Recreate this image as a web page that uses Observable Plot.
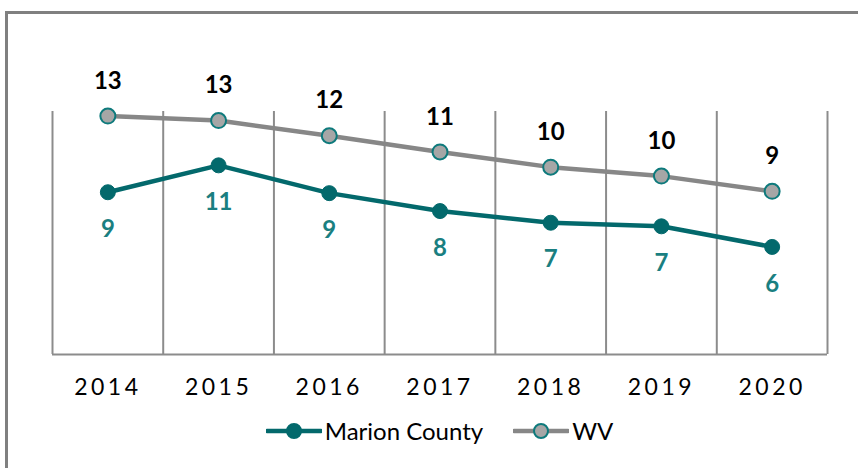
<!DOCTYPE html>
<html>
<head>
<meta charset="utf-8">
<script src="https://cdn.jsdelivr.net/npm/d3@7"></script>
<script src="https://cdn.jsdelivr.net/npm/@observablehq/plot@0.6"></script>
<style>
  html, body { margin: 0; padding: 0; background: #fff; overflow: hidden; width: 858px; height: 468px; }
  body { position: relative; font-family: Lato, "Open Sans", sans-serif; }
  #frame { position: absolute; left: 5px; top: 11px; width: 900px; height: 500px; border: 3px solid #808080; box-sizing: border-box; pointer-events: none; }
  #chart { position: absolute; left: 0; top: 0; }
  #chart [aria-label="x-axis tick label"] text { letter-spacing: 3.5px; }
  #legend { position: absolute; left: 52px; width: 775px; top: 416px; display: flex; justify-content: center; align-items: center; gap: 30px; font-size: 24px; color: #000; }
  .item { display: flex; align-items: center; gap: 3px; }
</style>
</head>
<body>
<div id="chart"></div>
<div id="legend"></div>
<div id="frame"></div>
<script>
const years = [2014, 2015, 2016, 2017, 2018, 2019, 2020];
const marion = [9.05, 10.55, 9.0, 8.0, 7.35, 7.15, 6.0];
const wv = [13.3, 13.05, 12.2, 11.3, 10.45, 9.95, 9.1];
const seriesNames = ["Marion County", "WV"];

const colors = {
  marionLine: "#03696c",
  marionLabel: "#1a7f81",
  wvLine: "#878787",
  wvFill: "#a6a6a6",
  wvStroke: "#0e7a7c",
  grid: "#8c8c8c"
};

const marionData = years.map((y, i) => ({year: y, value: marion[i]}));
const wvData = years.map((y, i) => ({year: y, value: wv[i]}));
const bounds = [...years.map(y => y - 0.5), years[years.length - 1] + 0.5];

const plot = Plot.plot({
  width: 858,
  height: 410,
  marginLeft: 52,
  marginRight: 31,
  marginTop: 103,
  marginBottom: 56,
  style: {fontFamily: "Lato, 'Open Sans', sans-serif", background: "transparent"},
  x: {domain: [2013.5, 2020.5], label: null},
  y: {domain: [0, 14], axis: null},
  marks: [
    Plot.ruleX(bounds, {x: d => d, y1: 0, y2: 14, stroke: colors.grid, strokeWidth: 2, insetBottom: -8}),
    Plot.ruleY([0], {stroke: colors.grid, strokeWidth: 2}),
    Plot.axisX({ticks: years, tickFormat: d => String(d), tickSize: 0, tickPadding: 24, fontSize: 23, fill: "#000", stroke: null, label: null}),
    Plot.line(wvData, {x: "year", y: "value", stroke: colors.wvLine, strokeWidth: 4.5}),
    Plot.line(marionData, {x: "year", y: "value", stroke: colors.marionLine, strokeWidth: 4.5}),
    Plot.dot(wvData, {x: "year", y: "value", r: 7.5, fill: colors.wvFill, stroke: colors.wvStroke, strokeWidth: 2}),
    Plot.dot(marionData, {x: "year", y: "value", r: 7.5, fill: colors.marionLine, stroke: colors.marionLine, strokeWidth: 1}),
    Plot.text(wvData, {x: "year", y: "value", text: d => String(Math.round(d.value)), dy: -35, fontSize: 24, fontWeight: "bold", fill: "#000"}),
    Plot.text(marionData, {x: "year", y: "value", text: d => String(Math.round(d.value)), dy: 37, fontSize: 24, fontWeight: "bold", fill: colors.marionLabel})
  ]
});
document.getElementById("chart").appendChild(plot);

const swatch = (line, fill, stroke) =>
  `<svg width="56" height="18" viewBox="0 0 56 18"><line x1="1" y1="9" x2="55" y2="9" stroke="${line}" stroke-width="4.5" stroke-linecap="round"/><circle cx="28" cy="9" r="7" fill="${fill}" stroke="${stroke}" stroke-width="2"/></svg>`;
const legend = document.getElementById("legend");
legend.innerHTML =
  `<span class="item">${swatch(colors.marionLine, colors.marionLine, colors.marionLine)}<span>${seriesNames[0]}</span></span>` +
  `<span class="item">${swatch(colors.wvLine, colors.wvFill, colors.wvStroke)}<span>${seriesNames[1]}</span></span>`;
</script>
</body>
</html>
